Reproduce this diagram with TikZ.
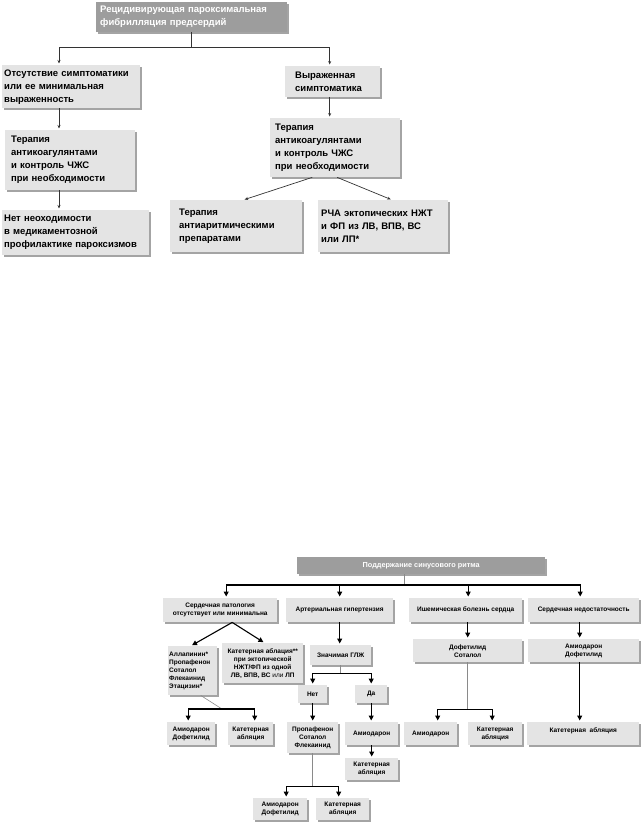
\documentclass[tikz,border=0pt]{standalone}
\usepackage{fontspec}
\setmainfont{Liberation Sans}
\usepackage{xcolor}
\usetikzlibrary{positioning, arrows.meta, shadows}
\definecolor{boxgray}{HTML}{E4E4E4}
\definecolor{shadegray}{HTML}{A4A4A4}
\definecolor{headgray}{HTML}{9D9D9D}
\definecolor{linegray}{HTML}{8A8A8A}

\newcommand\bigtext{\fontsize{9.5}{13}\selectfont\bfseries}
\newcommand\smalltext{\fontsize{6.5}{8}\selectfont\bfseries}

\tikzset{
  box/.style={fill=boxgray, anchor=north west, inner sep=0pt,
    general shadow={fill=shadegray, shadow xshift=2pt, shadow yshift=-2pt}},
  head/.style={box, fill=headgray, text=white},
  tbox/.style n args={3}{box, minimum width=#1pt, minimum height=#2pt,
    text width=#1pt-2*#3pt, align=left, font=\bigtext},
  sbox/.style 2 args={box, minimum width=#1pt, minimum height=#2pt,
    align=center, font=\smalltext},
  tline/.style={draw=black!80, line width=0.7pt},
  tarr/.style={tline, -{Stealth[length=3.5pt, width=3pt]}, shorten >=1.5pt},
  gline/.style={draw=linegray, line width=0.6pt},
  barr/.style={draw=black, line width=1.1pt, -{Triangle[length=5pt, width=5pt]}, shorten >=1.5pt}
}

\begin{document}
\begin{tikzpicture}[x=1pt, y=-1pt]
  \useasboundingbox (0,0) rectangle (643,825);

  % upper chart
  \node[head, minimum width=191pt, minimum height=30pt, text width=183pt,
        align=left, font=\bigtext] (relapse) at (96,2)
        {Рецидивирующая пароксимальная\\фибрилляция предсердий};
  \node[tbox={138}{43}{2}] (mild) at (2,65)
        {Отсутствие симптоматики\\или ее минимальная\\выраженность};
  \node[tbox={95}{31}{10}] (severe) at (285,66)
        {Выраженная\\симптоматика};
  \node[tbox={130}{60}{6}] (anticoag0) at (5,130)
        {Терапия\\антикоагулянтами\\и контроль ЧЖС\\при необходимости};
  \node[tbox={130}{59}{5}] (anticoag1) at (270,118)
        {Терапия\\антикоагулянтами\\и контроль ЧЖС\\при необходимости};
  \node[tbox={147}{45}{2}] (noneed) at (2,210)
        {Нет неоходимости\\в медикаментозной\\профилактике пароксизмов};
  \node[tbox={132}{52}{9}] (antiarr) at (170,200)
        {Терапия\\антиаритмическими\\препаратами};
  \node[tbox={130}{52}{3}] (rfa) at (318,200)
        {РЧА эктопических НЖТ\\и ФП из ЛВ, ВПВ, ВС\\или ЛП*};

  \coordinate (lx) at (59,0);
  \draw[tline] (relapse.south) -- ++(0,15) coordinate (split);
  \draw[tarr] (split) -| (mild.north -| lx);
  \draw[tarr] (split) -| ([xshift=-3pt]severe.north);
  \draw[tarr] (mild.south -| lx) -- (anticoag0.north -| lx);
  \draw[tarr] (anticoag0.south -| lx) -- (noneed.north -| lx);
  \draw[tarr] ([xshift=-3pt]severe.south) -- ([xshift=-3pt]severe.south |- anticoag1.north);
  \draw[tarr] ([xshift=-23pt]anticoag1.south) -- ([xshift=7pt]antiarr.north);
  \draw[tarr] ([xshift=2pt]anticoag1.south) -- ([xshift=9pt]rfa.north);

  % lower chart
  \node[head, minimum width=248pt, minimum height=17pt,
        font=\fontsize{7.3}{9}\selectfont\bfseries] (sinus) at (297,557)
        {Поддержание синусового ритма};
  \node[sbox={114}{24}] (nopath) at (163,598)
        {Сердечная патология\\отсутствует или минимальна};
  \node[sbox={107}{24}] (hypert) at (286,598) {Артериальная гипертензия};
  \node[sbox={113}{24}] (ihd) at (409,598) {Ишемическая болезнь сердца};
  \node[sbox={111}{24}] (hfail) at (528,598) {Сердечная недостаточность};

  \node[sbox={49}{49}, text width=47pt, align=left] (drugs) at (168,646)
        {Аллапинин*\\Пропафенон\\Соталол\\Флекаинид\\Этацизин*};
  \node[sbox={81}{40}] (ablfocal) at (222,643)
        {Катетерная аблация**\\при эктопической\\НЖТ/ФП из одной\\ЛВ, ВПВ, ВС {\mdseries или} ЛП};
  \node[sbox={61}{20}] (lvh) at (310,645) {Значимая ГЛЖ};
  \node[sbox={29}{18}] (lvhno) at (298,685) {Нет};
  \node[sbox={32}{18}] (lvhyes) at (355,685) {Да};
  \node[sbox={51}{31}] (propaf) at (287,722) {Пропафенон\\Соталол\\Флекаинид};
  \node[sbox={53}{23}] (amioyes) at (345,722) {Амиодарон};
  \node[sbox={53}{22}] (ablyes) at (345,758) {Катетерная\\абляция};
  \node[sbox={54}{22}] (amiono) at (253,798) {Амиодарон\\Дофетилид};
  \node[sbox={53}{22}] (ablno) at (316,798) {Катетерная\\абляция};
  \node[sbox={48}{23}] (amiomild) at (167,722) {Амиодарон\\Дофетилид};
  \node[sbox={45}{23}] (ablmild) at (228,722) {Катетерная\\абляция};
  \node[sbox={109}{23}] (dofsot) at (413,639) {Дофетилид\\Соталол};
  \node[sbox={53}{23}] (amioihd) at (404,722) {Амиодарон};
  \node[sbox={54}{23}] (ablihd) at (468,722) {Катетерная\\абляция};
  \node[sbox={111}{23}] (amiodof) at (528,639) {Амиодарон\\Дофетилид};
  \node[sbox={112}{23}] (ablhf) at (527,722) {Катетерная~~абляция\\~};

  \coordinate (bus) at (404,585);
  \draw[gline] (sinus.south -| bus) -- (bus);
  \draw[barr] (bus) -| ([xshift=6pt]nopath.north);
  \draw[barr] (bus) -| (hypert.north);
  \draw[barr] (bus) -| ([xshift=2.5pt]ihd.north);
  \draw[barr] (bus) -| ([xshift=-3.5pt]hfail.north);

  \draw[barr] ([xshift=12pt]nopath.south) -- ([xshift=-2pt]drugs.north);
  \draw[barr] ([xshift=12pt]nopath.south) -- ([xshift=2pt]ablfocal.north);
  \coordinate (drugsplit) at (222,709);
  \draw[gline] ([xshift=8pt]drugs.south) -- (drugsplit);
  \draw[barr] (drugsplit) -| ([xshift=-3pt]amiomild.north);
  \draw[barr] (drugsplit) -| ([xshift=4pt]ablmild.north);

  \draw[barr] (hypert.south) -- (hypert.south |- lvh.north);
  \draw[gline] (lvh.south) -- ++(0,8) coordinate (lvhsplit);
  \draw[barr] (lvhsplit) -| (lvhno.north);
  \draw[barr] (lvhsplit) -| (lvhyes.north);
  \draw[barr] (lvhno.south) -- (lvhno.south |- propaf.north);
  \draw[barr] (lvhyes.south) -- (lvhyes.south |- amioyes.north);
  \draw[barr] (amioyes.south) -- (ablyes.north);
  \draw[gline] (propaf.south) -- ++(0,33) coordinate (propsplit);
  \draw[barr] (propsplit) -| ([xshift=6pt]amiono.north);
  \draw[barr] (propsplit) -| ([xshift=-4pt]ablno.north);

  \draw[barr] (ihd.south -| dofsot.north) -- (dofsot.north);
  \draw[gline] (dofsot.south) -- ++(0,47) coordinate (dofsplit);
  \draw[barr] (dofsplit) -| ([xshift=7pt]amioihd.north);
  \draw[barr] (dofsplit) -| ([xshift=-3pt]ablihd.north);

  \draw[barr] ([xshift=-4pt]hfail.south) -- ([xshift=-4pt]amiodof.north);
  \draw[barr] ([xshift=-4pt]amiodof.south) -- ([xshift=-4pt]amiodof.south |- ablhf.north);
\end{tikzpicture}
\end{document}
